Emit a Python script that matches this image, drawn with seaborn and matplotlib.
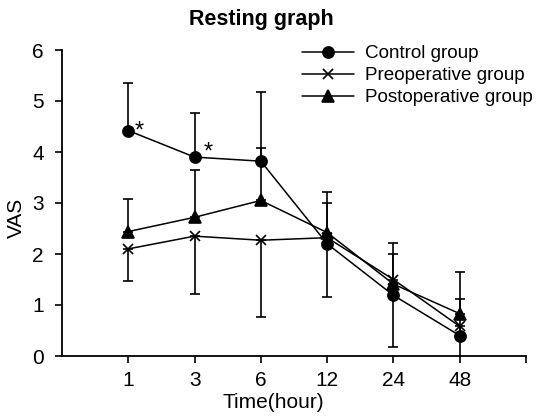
import matplotlib
matplotlib.use("Agg")
import matplotlib.pyplot as plt
import numpy as np
import pandas as pd
import seaborn as sns
from matplotlib.lines import Line2D

# ---------------------------------------------------------------------------
# Data
# ---------------------------------------------------------------------------
hours = ["1", "3", "6", "12", "24", "48"]
groups = ["Control group", "Preoperative group", "Postoperative group"]

control = [4.42, 3.90, 3.82, 2.20, 1.19, 0.40]
preop = [2.10, 2.35, 2.27, 2.32, 1.50, 0.58]
postop = [2.44, 2.72, 3.05, 2.42, 1.41, 0.83]

# one-sided error bars: control and postoperative upwards, preoperative downwards
control_sd = [0.94, 0.87, 1.36, 1.01, 1.02, 1.25]
preop_sd = [0.63, 1.13, 1.50, 1.17, 1.32, 0.65]
postop_sd = [0.64, 0.93, 1.03, 0.58, 0.59, 0.29]

# significance marks: (hour label, value)
stars = [("1", 4.42), ("3", 3.90)]

# ---------------------------------------------------------------------------
# Plot
# ---------------------------------------------------------------------------
sns.set_style("ticks", {"axes.edgecolor": "black", "text.color": "black",
                        "axes.labelcolor": "black", "xtick.color": "black",
                        "ytick.color": "black"})
plt.rcParams["font.family"] = ["Liberation Sans", "DejaVu Sans"]
plt.rcParams["font.size"] = 15

pos = np.arange(len(hours))
df = pd.DataFrame({
    "pos": np.tile(pos, 3),
    "vas": control + preop + postop,
    "group": np.repeat(groups, len(hours)),
})

fig = plt.figure(figsize=(5.41, 4.17), dpi=100)
ax = fig.add_axes([62 / 541, 1 - 356 / 417, (526 - 62) / 541, (356 - 50) / 417])

markers = {"Control group": "o", "Preoperative group": "x", "Postoperative group": "^"}
msizes = {"Control group": 8, "Preoperative group": 7, "Postoperative group": 8}
for g in groups:
    sns.lineplot(
        data=df[df["group"] == g], x="pos", y="vas", color="black",
        marker=markers[g], markersize=msizes[g], markeredgewidth=1.2,
        markeredgecolor="black", linewidth=1.1, ax=ax,
    )

zeros = np.zeros(len(hours))
ax.errorbar(pos, control, yerr=[zeros, control_sd], fmt="none", ecolor="black",
            elinewidth=1.2, capsize=3.5, capthick=1.2)
ax.errorbar(pos, preop, yerr=[preop_sd, zeros], fmt="none", ecolor="black",
            elinewidth=1.2, capsize=3.5, capthick=1.2)
ax.errorbar(pos, postop, yerr=[zeros, postop_sd], fmt="none", ecolor="black",
            elinewidth=1.2, capsize=3.5, capthick=1.2)

star_off = [(0.17, -0.14), (0.2, -0.03)]
for (h, v), (dx, dy) in zip(stars, star_off):
    ax.text(hours.index(h) + dx, v + dy, "*", fontsize=17, ha="center", va="baseline")

ax.set_xlim(-1, 6)
ax.set_ylim(0, 6)
ax.set_xticks(list(pos) + [6])
ax.set_xticklabels(hours + [""])
ax.set_yticks(range(7))
ax.tick_params(axis="both", direction="out", length=5, width=1.2, labelsize=15)
ax.tick_params(axis="x", pad=6)
ax.tick_params(axis="y", pad=8)
sns.despine(ax=ax)
for sp in ["left", "bottom"]:
    ax.spines[sp].set_linewidth(1.3)

ax.set_xlabel("Time(hour)", fontsize=15)
ax.xaxis.set_label_coords((273 - 62) / (526 - 62), -0.12)
ax.set_ylabel("VAS", fontsize=15)
ax.yaxis.set_label_coords(-0.078, 0.45)

fig.text(261 / 541, 1 - 19 / 417, "Resting graph", fontsize=15.5, fontweight="bold",
         ha="center", va="center")

handles = [Line2D([], [], color="black", lw=1.1, marker=markers[g], markersize=msizes[g],
                  markeredgewidth=1.2) for g in groups]
ax.legend(handles, groups, loc="upper left", bbox_to_anchor=(302 / 541, 1 - 45 / 417),
          bbox_transform=fig.transFigure, frameon=False, borderpad=0, borderaxespad=0,
          handlelength=2.75, handletextpad=0.6, labelspacing=0.26, fontsize=13.6)

fig.savefig("out.png", dpi=100)
